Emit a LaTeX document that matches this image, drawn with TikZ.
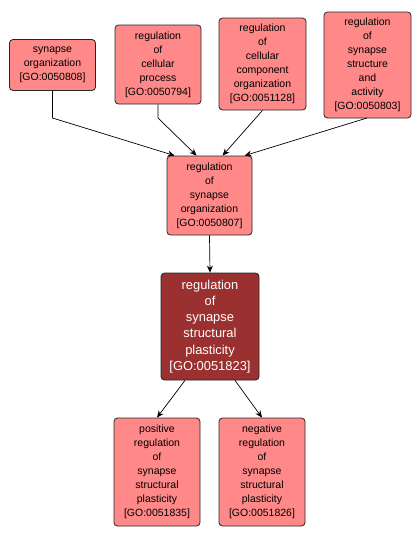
\documentclass[tikz,border=0pt]{standalone}
\usepackage{fontspec}
\newfontfamily\gofont{Liberation Sans}
\usepackage{tikz}
\usetikzlibrary{arrows.meta, positioning, calc}
\usepackage{xcolor}
\definecolor{golight}{RGB}{255,137,137}
\definecolor{godark}{RGB}{155,48,48}

\begin{document}
\begin{tikzpicture}[x=1pt, y=-1pt,
   every node/.style={font=\gofont\fontsize{10.5}{14}\selectfont},
   term/.style={draw=black!85, fill=golight, rounded corners=3.5pt, align=center,
                inner sep=0pt, line width=0.8pt},
   focus/.style={term, fill=godark, text=white,
                 font=\gofont\fontsize{12.9}{16.3}\selectfont},
   isa/.style={-{Stealth[length=7pt, width=6pt]}, line width=0.7pt}]
  \useasboundingbox (0,0) rectangle (420,539);

  % top row
  \node[term, minimum width=86pt, minimum height=51pt] (synorg) at (52.5,65)
       {synapse\\organization\\{[GO:0050808]}};
  \node[term, minimum width=86pt, minimum height=79pt] (regcell) at (158,64.5)
       {regulation\\of\\cellular\\process\\{[GO:0050794]}};
  \node[term, minimum width=87pt, minimum height=92pt] (regcomp) at (262.5,64)
       {regulation\\of\\cellular\\component\\organization\\{[GO:0051128]}};
  \node[term, minimum width=87pt, minimum height=106pt] (regsynact) at (367.5,65)
       {regulation\\of\\synapse\\structure\\and\\activity\\{[GO:0050803]}};

  % middle
  \node[term, minimum width=85pt, minimum height=79pt] (regsynorg) at (209.5,195.5)
       {regulation\\of\\synapse\\organization\\{[GO:0050807]}};
  \node[focus, minimum width=98pt, minimum height=107pt] (regplast) at (210,326.5)
       {regulation\\of\\synapse\\structural\\plasticity\\{[GO:0051823]}};

  % bottom row
  \node[term, minimum width=86pt, minimum height=108pt] (posplast) at (157,472)
       {positive\\regulation\\of\\synapse\\structural\\plasticity\\{[GO:0051835]}};
  \node[term, minimum width=86pt, minimum height=108pt] (negplast) at (262,472)
       {negative\\regulation\\of\\synapse\\structural\\plasticity\\{[GO:0051826]}};

  % bends and ends
  \coordinate (bendA) at (52.5,118);
  \coordinate (bendB) at (158,118);
  \coordinate (endA) at ($(regsynorg.north west)+(8,0)$);
  \coordinate (endB) at ($(regsynorg.north west)+(30,0)$);
  \coordinate (endC) at ($(regsynorg.north west)+(56,0)$);
  \coordinate (endD) at ($(regsynorg.north west)+(78,0)$);
  \coordinate (startD) at (367,118);

  \draw[isa] (synorg.south) -- (bendA) -- (endA);
  \draw[isa] (regcell.south) -- (bendB) -- (endB);
  \draw[isa] (regcomp.south) -- (endC);
  \draw[isa] (startD) -- (endD);
  \draw[isa] (regsynorg.south) -- (regplast.north);
  \draw[isa] ($(regplast.south)+(-25,0)$) -- (posplast.north);
  \draw[isa] ($(regplast.south)+(25,0)$) -- (negplast.north);
\end{tikzpicture}
\end{document}
